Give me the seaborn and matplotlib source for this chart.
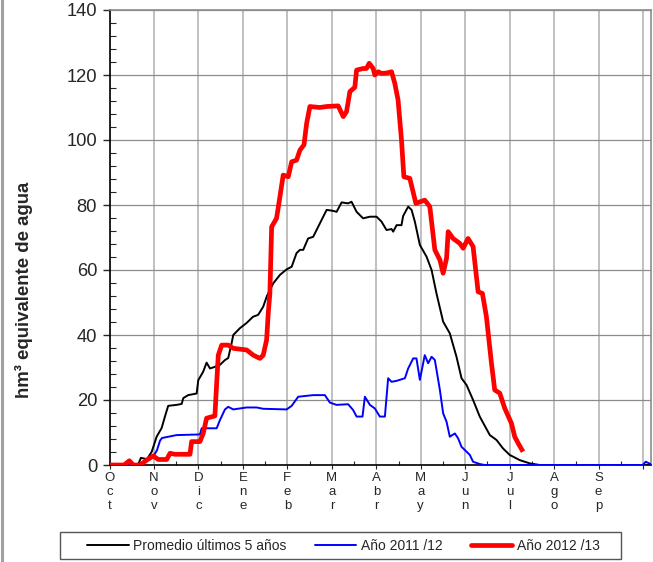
import matplotlib

matplotlib.use("Agg")
import matplotlib.pyplot as plt
import numpy as np
import pandas as pd
import seaborn as sns
from matplotlib.lines import Line2D
from matplotlib.patches import Rectangle

# days since 1 October, reservoir-equivalent volume (hm3)
promedio_dias = [0, 19.2, 21.2, 25.3, 28.5, 31.8, 35.2, 37.4, 39.6, 45.3, 48.7, 49.8, 53.1,
                 58.8, 59.9, 63.2, 65.5, 67.8, 71.1, 74.5, 77.9, 80.1, 82.4, 83.5, 88, 92.5,
                 96.8, 100.3, 103.7, 106.2, 110.5, 115, 119.5, 122.9, 126.2, 128.5, 130.7,
                 134, 137.4, 140.8, 143.1, 146.5, 150.9, 153.2, 156.6, 161, 163.3, 166.7,
                 171.1, 175.7, 180.2, 183.5, 186.9, 190.3, 191.4, 193.7, 197, 198.1, 201.5,
                 203.8, 206, 209.4, 213.9, 217.3, 220.6, 225.1, 229.6, 234.1, 237.5, 240.9,
                 245.3, 249.8, 256.6, 261.1, 265.5, 270, 276.8, 283.5, 290.3, 365]
promedio_vals = [0, 0, 2.2, 1.8, 4.1, 8.7, 11.4, 14.9, 18.2, 18.5, 18.8, 20.6, 21.5,
                 22, 26.1, 28.7, 31.5, 29.7, 30.2, 30.8, 32.3, 32.9, 37.5, 40, 42.1, 43.7,
                 45.6, 46.2, 48.7, 52, 55.9, 58.5, 60.2, 61, 65.2, 66.2, 66.2,
                 69.7, 70.2, 73.3, 75.4, 78.5, 78.2, 77.9, 80.8, 80.5, 81, 77.9,
                 75.9, 76.4, 76.4, 74.9, 72.3, 72.6, 71.8, 73.8, 73.8, 76.6, 79.5,
                 78.5, 74.9, 67.7, 64.1, 60, 52.8, 44.1, 40.5, 33.3, 26.7, 24.6,
                 20, 14.9, 9.2, 7.7, 5.1, 3.1, 1.5, 0.5, 0, 0]

a2011_dias = [0, 20.6, 24.6, 29.3, 32, 34.1, 35.4, 43, 45.3, 61, 62.2, 72.3, 74.5, 77.9,
              80.1, 83.5, 92.5, 99.3, 103.7, 119.5, 122.9, 127.3, 137.4, 145.3, 148.7,
              153.2, 161, 164.4, 166.7, 170.7, 172.3, 175.7, 179, 182.4, 185.8, 188,
              190.3, 193.7, 199.3, 201.5, 204.9, 207.1, 209.4, 212.7, 215, 217.3, 219.5,
              222.9, 225.1, 227.4, 229.6, 233, 235.2, 237.5, 240.9, 243.1, 245.3, 249.8,
              253.1, 359.7, 361.8, 365]
a2011_vals = [0, 0, 1.5, 2.5, 4.5, 7.5, 8.3, 9, 9.2, 9.4, 11.3, 11.3, 13.8, 17.1,
              17.9, 17.1, 17.7, 17.7, 17.3, 17.1, 18.2, 21, 21.5, 21.5, 19.2,
              18.5, 18.7, 16.9, 14.9, 14.9, 21, 18.5, 17.4, 14.9, 14.9, 26.7,
              25.6, 25.9, 26.7, 29.7, 32.8, 32.8, 26.2, 33.8, 31.3, 33.3, 32.3,
              23.1, 15.9, 13.3, 8.7, 9.7, 8.2, 5.6, 4.1, 3.1, 1, 0.3,
              0, 0, 1, 0.3]

a2012_dias = [0, 9.8, 13.4, 16, 20.6, 25.1, 29.5, 32.9, 38.6, 40.8, 44.2, 54.3, 55.4, 61,
              63.2, 65.5, 71.1, 72.3, 73.4, 75.7, 80.1, 83.5, 92.5, 97, 101.5, 103.7, 106,
              107.1, 108.2, 109.4, 112.7, 115, 117.2, 120.6, 122.9, 126.2, 128.5, 131.2,
              133, 135.2, 141.9, 146.5, 154.3, 157.7, 159.9, 162.2, 165.5, 166.7, 171.1,
              173.4, 175.2, 177.9, 179, 181.3, 183.5, 186.9, 190.3, 192.5, 194.7, 197,
              198.6, 202.6, 206.7, 212.7, 216.1, 219.5, 222.9, 225.1, 227.4, 228.5, 231.8,
              236.3, 238.6, 241.9, 245.3, 248.7, 251.6, 254.3, 257.7, 259.9, 263.3, 266.7,
              271.2, 273.4, 275.7, 279]
a2012_vals = [0, 0, 1.3, 0, 0, 1.5, 2.8, 1.7, 1.7, 3.6, 3.3, 3.3, 7.2, 7.2,
              9.7, 14.4, 15.1, 25.1, 33.8, 36.9, 36.9, 35.9, 35.4, 33.8, 32.8, 33.8, 38.5,
              46.7, 52.8, 73.3, 75.9, 82.6, 89.2, 88.7, 93.3, 93.8, 96.9, 98.5,
              105.1, 110.3, 110, 110.3, 110.5, 107.2, 108.7, 114.9, 116.2, 121.5, 122,
              122, 123.6, 122, 120, 121, 120.5, 120.6, 121, 117.4, 112.3, 100,
              88.7, 88.2, 80.5, 81.5, 79.5, 66.2, 63.1, 59, 63.6, 71.8, 69.7,
              68.2, 66.7, 69.7, 67.2, 53.3, 52.8, 45.6, 31.3, 23.1, 22.1, 17.4,
              12.8, 8.7, 6.7, 4.1]

meses = ["Oct", "Nov", "Dic", "Ene", "Feb", "Mar", "Abr", "May", "Jun", "Jul", "Ago", "Sep", ""]

sns.set_style("ticks")
plt.rcParams["font.family"] = ["Liberation Sans", "DejaVu Sans"]

fig = plt.figure(figsize=(6.53, 5.62), dpi=100)
ax = fig.add_axes([109.5 / 653, 97 / 562, 541 / 653, 455 / 562])

sns.lineplot(x=promedio_dias, y=promedio_vals, color="black", linewidth=1.4, ax=ax, zorder=3)
sns.lineplot(x=a2011_dias, y=a2011_vals, color="#0000ff", linewidth=1.4, ax=ax, zorder=4)
sns.lineplot(x=a2012_dias, y=a2012_vals, color="#ff0000", linewidth=3.4, ax=ax, zorder=5,
             solid_capstyle="butt")

ax.set_xlim(0, 365)
ax.set_ylim(0, 140)

# axes, ticks, grid
ax.set_yticks(np.arange(0, 141, 20))
ax.set_yticks(np.arange(0, 141, 4), minor=True)
ax.tick_params(axis="y", which="major", direction="out", length=5, width=1,
               labelsize=13.2, pad=4)
ax.tick_params(axis="y", which="minor", direction="in", length=4, width=0.8)

ax.set_xticks(np.arange(0, 361, 30))
ax.set_xticklabels(["\n".join(m) for m in meses], linespacing=1.25)
ax.set_xticks(np.arange(15, 366, 30), minor=True)
ax.tick_params(axis="x", which="major", direction="out", length=3, width=0.8,
               labelsize=9.5, pad=2)
ax.tick_params(axis="x", which="minor", direction="in", length=3, width=0.8)

ax.grid(axis="x", which="major", color="#c0c0c0", linewidth=1.4)
ax.grid(axis="y", which="major", color="#8c8c8c", linewidth=0.9)
ax.set_axisbelow(True)

for side in ["left", "bottom"]:
    ax.spines[side].set_color("black")
    ax.spines[side].set_linewidth(1.2)
for side in ["top", "right"]:
    ax.spines[side].set_color("#8c8c8c")
    ax.spines[side].set_linewidth(1.2)

ax.set_xlabel("")
ax.set_ylabel("")
fig.text(24 / 653, 1 - 290 / 562, "hm³ equivalente de agua", rotation=90,
         ha="center", va="center", fontsize=13.4, fontweight="bold")

# legend
handles = [
    Line2D([], [], color="black", linewidth=1.4),
    Line2D([], [], color="#0000ff", linewidth=1.4),
    Line2D([], [], color="#ff0000", linewidth=3.4),
]
labels = ["Promedio últimos 5 años", "Año 2011 /12", "Año 2012 /13"]
leg = fig.legend(handles, labels, loc="center", ncol=3,
                 bbox_to_anchor=(343.5 / 653, 1 - 545.5 / 562),
                 fontsize=10, frameon=False, handlelength=3.0,
                 handletextpad=0.35, columnspacing=2.0)
fig.add_artist(Rectangle((60 / 653, 1 - 559 / 562), 561 / 653, 27.5 / 562,
                         transform=fig.transFigure, fill=False,
                         edgecolor="#555555", linewidth=1.0))

# outer frame on left side
fig.add_artist(Line2D([1.5 / 653, 1.5 / 653], [0, 1], color="#a0a0a0", linewidth=2.2,
                      transform=fig.transFigure))

fig.savefig("out.png", dpi=100)
